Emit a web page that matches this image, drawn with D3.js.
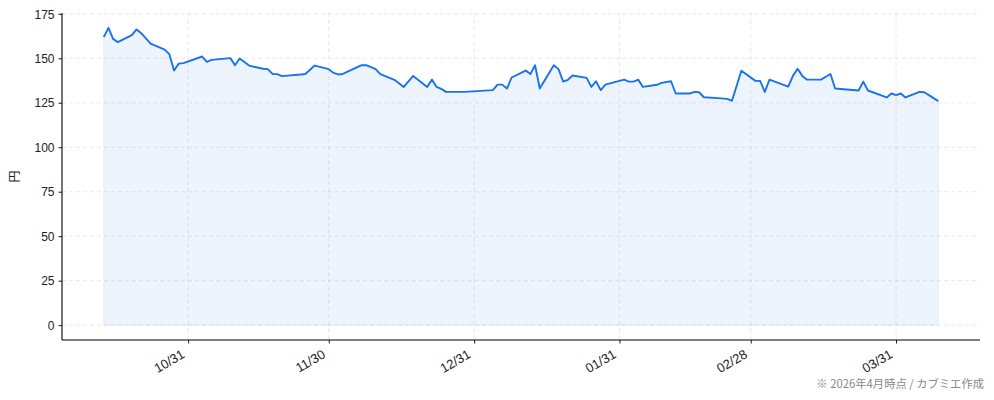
<!DOCTYPE html>
<html><head><meta charset="utf-8">
<script src="https://cdn.jsdelivr.net/npm/d3@7"></script>
<style>
html,body{margin:0;padding:0;background:#fff;}
svg{display:block;font-family:"Noto Sans CJK JP","Noto Sans",sans-serif;}
</style></head>
<body>
<svg id="chart" width="994" height="400"></svg>
<script>
const dates = [
"2025-10-13","2025-10-14","2025-10-15","2025-10-16","2025-10-19","2025-10-20","2025-10-21","2025-10-23",
"2025-10-26","2025-10-27","2025-10-28","2025-10-29","2025-10-30","2025-11-03","2025-11-04","2025-11-05",
"2025-11-09","2025-11-10","2025-11-11","2025-11-13","2025-11-16","2025-11-17","2025-11-18","2025-11-19",
"2025-11-20","2025-11-24","2025-11-25","2025-11-27","2025-11-30","2025-12-01","2025-12-02","2025-12-03",
"2025-12-07","2025-12-08","2025-12-10","2025-12-11","2025-12-14","2025-12-16","2025-12-18","2025-12-21",
"2025-12-22","2025-12-23","2025-12-24","2025-12-25","2025-12-29","2026-01-04","2026-01-05","2026-01-06",
"2026-01-07","2026-01-08","2026-01-11","2026-01-12","2026-01-13","2026-01-14","2026-01-17","2026-01-18",
"2026-01-19","2026-01-20","2026-01-21","2026-01-24","2026-01-25","2026-01-26","2026-01-27","2026-01-28",
"2026-02-01","2026-02-02","2026-02-03","2026-02-04","2026-02-05","2026-02-08","2026-02-09","2026-02-11",
"2026-02-12","2026-02-15","2026-02-16","2026-02-17","2026-02-18","2026-02-21","2026-02-23","2026-02-24",
"2026-02-26","2026-03-01","2026-03-02","2026-03-03","2026-03-04","2026-03-08","2026-03-09","2026-03-10",
"2026-03-11","2026-03-12","2026-03-15","2026-03-17","2026-03-18","2026-03-23","2026-03-24","2026-03-25",
"2026-03-29","2026-03-30","2026-03-31","2026-04-01","2026-04-02","2026-04-05","2026-04-06","2026-04-07",
"2026-04-09"
];
const prices = [
161.9,167.1,160.9,159.1,163.0,166.2,164.1,158.3,
154.9,152.3,143.1,147.0,147.3,151.0,148.0,149.1,
150.1,146.1,149.9,145.9,144.1,143.9,141.2,141.1,
140.0,140.9,141.2,145.9,143.9,141.8,140.9,141.2,
146.1,146.1,143.9,141.1,137.9,133.9,140.1,133.9,
138.0,133.9,132.8,131.1,131.1,132.1,135.2,135.2,
133.0,139.2,143.1,141.1,146.1,133.0,146.1,143.9,
136.9,137.9,140.3,139.0,133.9,137.1,132.1,135.2,
138.0,136.9,136.9,138.0,133.9,135.1,136.2,137.1,
130.2,130.2,131.1,130.9,128.1,127.6,127.2,126.1,
143.0,137.3,137.3,131.1,138.0,134.1,140.1,144.1,
140.1,138.0,138.0,141.2,133.0,131.9,136.9,131.9,
128.0,130.2,129.3,130.2,128.0,131.1,130.9,129.3,
125.9
];
const xTickDates = ["2025-10-31","2025-11-30","2025-12-31","2026-01-31","2026-02-28","2026-03-31"];
const yTicks = [0,25,50,75,100,125,150,175];
const yLabel = "円";
const footnote = "※ 2026年4月時点 / カブミエ作成";

const parse = d3.timeParse("%Y-%m-%d");
const data = dates.map((d,i)=>({date:parse(d), v:prices[i]}));
const svg = d3.select("#chart");
const L=62, R=980, T=13, B=340;
const color="#1a73e8";
const numFont = '"Liberation Sans",Arial,sans-serif';

const x0 = data[0].date, x1 = data[data.length-1].date;
const span = x1 - x0;
const x = d3.scaleTime().domain([new Date(+x0 - span*0.05), new Date(+x1 + span*0.05)]).range([L,R]);
const vmax = d3.max(prices), vmin = 0;
const yspan = vmax - vmin;
const y = d3.scaleLinear().domain([vmin - yspan*0.05, vmax + yspan*0.05]).range([B,T]);

const xt = xTickDates.map(parse);
// grid
const grid = svg.append("g");
grid.selectAll("line.h").data(yTicks).enter().append("line")
  .attr("x1",L).attr("x2",R).attr("y1",d=>y(d)).attr("y2",d=>y(d))
  .attr("stroke","#b0b0b0").attr("stroke-opacity",0.35).attr("stroke-width",0.8).attr("stroke-dasharray","4,3");
grid.selectAll("line.v").data(xt).enter().append("line")
  .attr("y1",T).attr("y2",B).attr("x1",d=>x(d)).attr("x2",d=>x(d))
  .attr("stroke","#b0b0b0").attr("stroke-opacity",0.35).attr("stroke-width",0.8).attr("stroke-dasharray","4,3");

// area
const area = d3.area().x(d=>x(d.date)).y0(y(0)).y1(d=>y(d.v));
svg.append("path").datum(data).attr("d",area)
  .attr("fill",color).attr("fill-opacity",0.08)
  .attr("stroke",color).attr("stroke-opacity",0.08).attr("stroke-width",1);
// line
const line = d3.line().x(d=>x(d.date)).y(d=>y(d.v));
svg.append("path").datum(data).attr("d",line)
  .attr("fill","none").attr("stroke",color).attr("stroke-width",1.9).attr("stroke-linejoin","round");

// axes
const yAxis = svg.append("g").attr("transform",`translate(${L},0)`)
  .call(d3.axisLeft(y).tickValues(yTicks).tickSize(3.5).tickPadding(4).tickFormat(d3.format("d")));
const xAxis = svg.append("g").attr("transform",`translate(0,${B})`)
  .call(d3.axisBottom(x).tickValues(xt).tickSize(3.5).tickPadding(4).tickFormat(d3.timeFormat("%m/%d")));
[yAxis,xAxis].forEach(g=>{
  g.select(".domain").remove();
  g.selectAll(".tick line").attr("stroke","#000").attr("stroke-width",0.9);
  g.selectAll(".tick text").attr("fill","#222").style("font-size","12px").style("font-family",numFont);
});
xAxis.selectAll(".tick text")
  .style("font-size","13px")
  .attr("text-anchor","end").attr("dy",null).attr("y",0)
  .attr("transform","translate(-3,17) rotate(-30)");
yAxis.selectAll(".tick text").attr("dy","0.35em");
// spines
svg.append("line").attr("x1",L).attr("x2",L).attr("y1",T).attr("y2",B).attr("stroke","#000").attr("stroke-width",1.1);
svg.append("line").attr("x1",L).attr("x2",R).attr("y1",B).attr("y2",B).attr("stroke","#000").attr("stroke-width",1.1);

// y label
svg.append("text").attr("transform",`translate(19,${(T+B)/2}) rotate(-90)`)
  .attr("text-anchor","middle").attr("fill","#222").style("font-size","12px").text(yLabel);
// footnote
svg.append("text").attr("x",984).attr("y",388).attr("text-anchor","end")
  .attr("fill","#888").style("font-size","11.3px").text(footnote);
</script>
</body></html>
